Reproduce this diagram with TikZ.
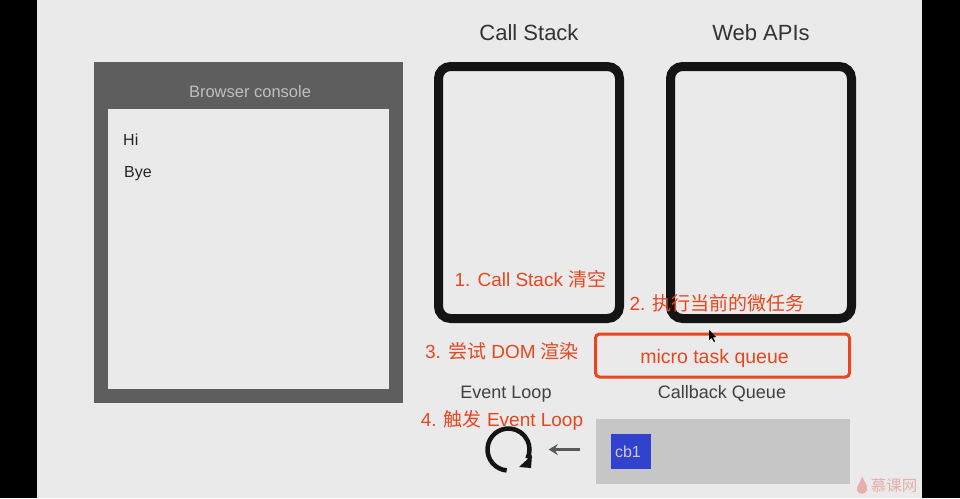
\documentclass[tikz,border=0pt]{standalone}
\usetikzlibrary{arrows.meta}
\usepackage{fontspec}
\setmainfont{Liberation Sans}
\newfontfamily\cjk{Noto Sans CJK SC}
\newcommand{\zh}[1]{{\cjk #1}}
\definecolor{screen}{HTML}{EAEAEA}
\definecolor{consolegray}{HTML}{5E5E5E}
\definecolor{notered}{HTML}{E8461E}
\definecolor{queuegray}{HTML}{C6C6C6}
\definecolor{cbblue}{HTML}{3341CF}
\definecolor{markred}{HTML}{E8AEAC}
\begin{document}
\begin{tikzpicture}[
    x=1pt, y=-1pt,
    title/.style={font=\fontsize{22}{26}\selectfont, text=black!80},
    caption/.style={font=\fontsize{18}{22}\selectfont, text=black!75},
    console/.style={font=\fontsize{16}{20}\selectfont, text=black!85, anchor=west},
    note/.style={font=\fontsize{19}{23}\selectfont, text=notered},
    panel/.style={rectangle, draw=black!92, line width=9pt, rounded corners=12pt, minimum width=181pt, minimum height=252pt},
    arrow/.style={-{Stealth[length=9pt,width=11pt]}, line width=2.5pt, draw=black!65, shorten <=16pt, shorten >=17pt}
]
\useasboundingbox (0,0) rectangle (960,498);

% Screen
\fill[black] (0,0) rectangle (960,498);
\fill[screen] (37,0) rectangle (922,498);

% Console
\node[rectangle, fill=consolegray, minimum width=309pt, minimum height=341pt] (consoleframe) at (248.5,232.5) {};
\node[rectangle, fill=screen, minimum width=281pt, minimum height=280pt] (consolebody) at (248.5,249) {};
\node[font=\fontsize{16.5}{20}\selectfont, text=black!25] (consoletitle) at (250,92) {Browser console};
\node[console, inner sep=0pt] (hi) at (123,140) {Hi};
\node[console, inner sep=0pt] (bye) at (124,174) {Bye};

% Call Stack and Web APIs
\node[title] (stacktitle) at (529,32.5) {Call Stack};
\node[title] (apititle) at (761,32.5) {Web APIs};
\node[panel] (stack) at (529,192.5) {};
\node[panel] (api) at (761,192.5) {};

% Queues
\node[rectangle, draw=notered, line width=3pt, rounded corners=4pt, minimum width=254pt, minimum height=43pt] (microqueue) at (722.5,355.5) {};
\node[font=\fontsize{19.5}{23}\selectfont, text=notered] (microlabel) at (714.5,358) {micro task queue};
\node[caption] (queuetitle) at (722,394) {Callback Queue};
\node[rectangle, fill=queuegray, minimum width=254pt, minimum height=65pt] (cbqueue) at (723,451.5) {};
\node[rectangle, fill=cbblue, minimum height=35pt, text width=32pt, inner xsep=4pt, inner ysep=0pt, align=left, font=\fontsize{16}{20}\selectfont, text=black!20] (cb) at (631,451.5) {cb1};

% Event Loop
\node[caption] (looptitle) at (506,394) {Event Loop};
\node[circle, minimum size=46pt, inner sep=0pt] (loop) at (508.5,449.5) {};
\draw[line width=4.5pt, black!92] (loop.center) ++(-265:21) arc[start angle=-265, end angle=25, radius=21];
\fill[black!92] (532,455) -- (519,467) -- (531,468) -- cycle;
\draw[arrow] (cbqueue.west |- loop.east) -- (loop.east);

% Notes
\node[note] (note1) at (530.5,279) {1. Call Stack \zh{清空}};
\node[note] (note2) at (717,303) {2. \zh{执行当前的微任务}};
\node[note] (note3) at (502,351) {3. \zh{尝试} DOM \zh{渲染}};
\node[note] (note4) at (502,420) {4. \zh{触发} Event Loop};

% Pointer and mark
\fill[black] (709,330) -- (709,340) -- (711.5,338) -- (714,342) -- (715,341) -- (713,337.5) -- (716,337) -- cycle;
\fill[markred] (862,476) .. controls (864,482) and (868,485) .. (867,490) .. controls (866,495) and (858,495) .. (857,490) .. controls (856,486) and (861,483) .. (862,476);
\node[font=\fontsize{15.5}{18}\selectfont\cjk, text=markred, inner sep=0pt] (mark) at (894,486) {慕课网};

\end{tikzpicture}
\end{document}
